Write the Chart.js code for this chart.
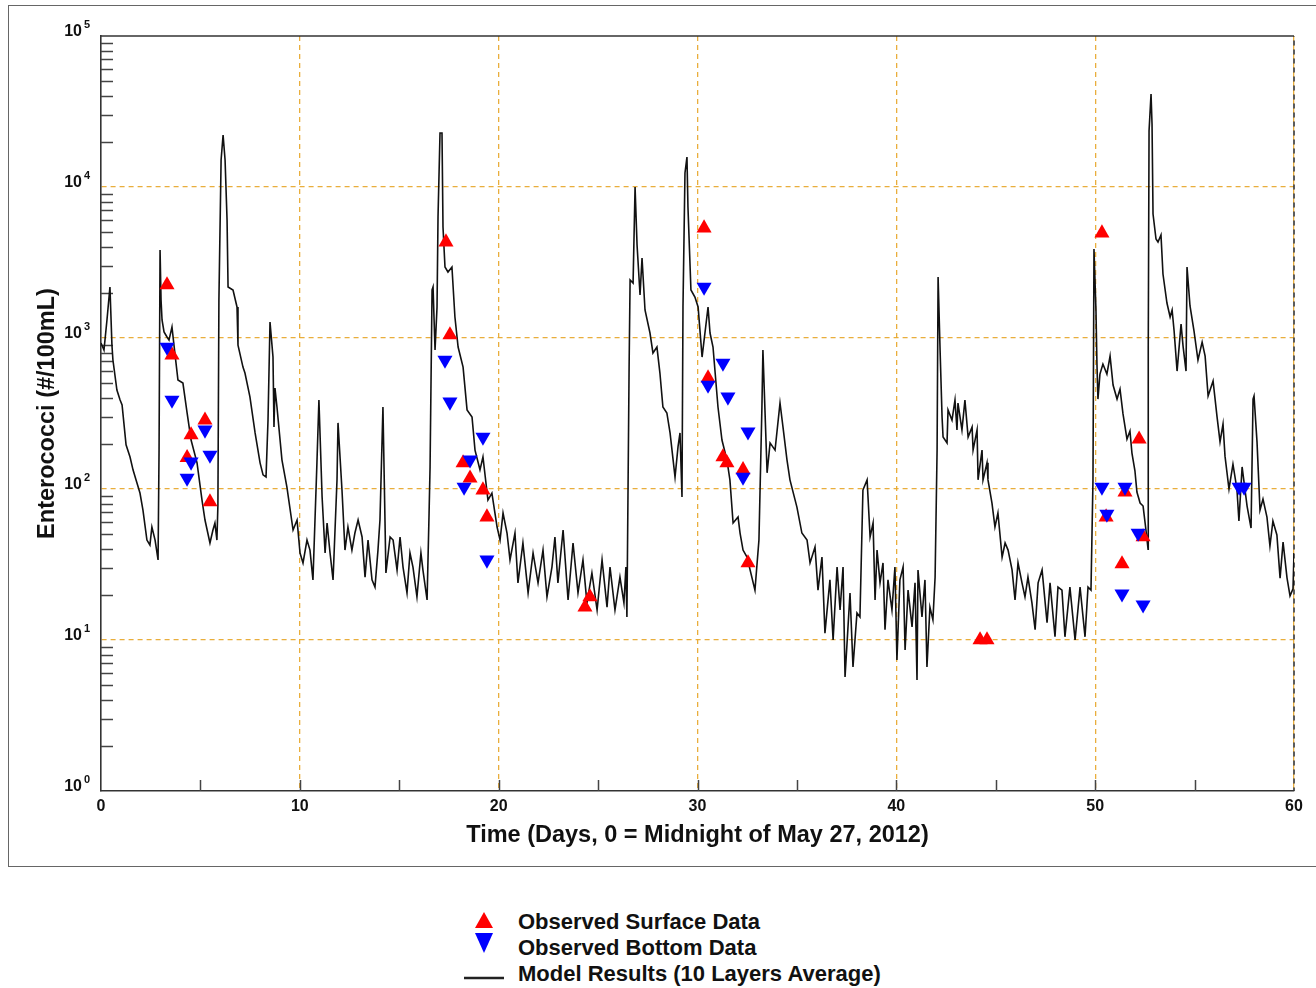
<!DOCTYPE html>
<html><head><meta charset="utf-8">
<script src="https://cdn.jsdelivr.net/npm/chart.js@4.4.1/dist/chart.umd.min.js"></script>
<style>
html,body{margin:0;padding:0;background:#fff;width:1316px;height:988px;overflow:hidden;position:relative;}
#frame{position:absolute;left:8px;top:5px;width:1330px;height:862px;border:1.5px solid #666;box-sizing:border-box;}
#c{position:absolute;left:0;top:0;}
#legend{position:absolute;left:0;top:890px;}
#legend text{font-family:'Liberation Sans',Arial,Helvetica,sans-serif;font-weight:bold;font-size:22px;fill:#111;}
</style></head><body>
<div id="frame"></div>
<canvas id="c" width="1316" height="870"></canvas>
<svg id="legend" width="1316" height="98">
  <polygon points="475,38 493,38 484,22" fill="#ff0000"/>
  <polygon points="475,43 493,43 484,63" fill="#0000ff"/>
  <line x1="464" y1="88" x2="504" y2="88" stroke="#222" stroke-width="2.5"/>
  <text id="lg0" x="518" y="39"></text>
  <text id="lg1" x="518" y="65"></text>
  <text id="lg2" x="518" y="91"></text>
</svg>
<script>
const FONT = "'Liberation Sans', Arial, Helvetica, 'DejaVu Sans', sans-serif";
const legendLabels = ['Observed Surface Data', 'Observed Bottom Data', 'Model Results (10 Layers Average)'];
const xTitle = 'Time (Days, 0 = Midnight of May 27, 2012)';
const yTitle = 'Enterococci (#/100mL)';
const xTickValues = [0, 10, 20, 30, 40, 50, 60];
const yTickValues = [1, 10, 100, 1000, 10000, 100000];
const yTickBases = ['10', '10', '10', '10', '10', '10'];
const yTickExponents = ['0', '1', '2', '3', '4', '5'];

const modelDays = [0.00,0.15,0.30,0.45,0.55,0.60,0.80,0.96,1.06,1.26,1.46,1.61,1.76,1.96,2.11,2.31,2.46,2.56,2.72,2.87,2.92,2.97,3.02,3.07,3.17,3.32,3.42,3.57,3.67,3.87,4.12,4.33,4.53,4.83,5.08,5.23,5.48,5.63,5.73,5.83,5.88,5.93,6.04,6.14,6.24,6.34,6.39,6.64,6.84,6.89,7.14,7.24,7.49,7.75,8.00,8.15,8.30,8.40,8.50,8.65,8.70,8.75,8.85,9.10,9.35,9.66,9.86,10.01,10.16,10.36,10.51,10.66,10.86,10.96,11.12,11.27,11.37,11.52,11.67,11.87,11.92,12.12,12.27,12.42,12.62,12.77,12.93,13.13,13.28,13.43,13.63,13.78,13.93,14.03,14.18,14.33,14.54,14.69,14.89,15.04,15.19,15.39,15.54,15.69,15.89,16.09,16.19,16.40,16.50,16.55,16.65,16.70,16.80,16.90,16.95,17.05,17.15,17.20,17.30,17.45,17.65,17.80,17.96,18.21,18.41,18.66,18.81,19.06,19.21,19.46,19.66,19.92,20.07,20.22,20.42,20.57,20.82,20.97,21.22,21.48,21.73,21.98,22.23,22.43,22.68,22.83,22.98,23.24,23.49,23.74,23.99,24.24,24.44,24.69,24.95,25.20,25.45,25.60,25.85,26.10,26.30,26.40,26.45,26.56,26.61,26.76,26.86,26.96,27.11,27.21,27.36,27.61,27.76,27.96,28.11,28.26,28.46,28.62,28.87,29.02,29.12,29.22,29.27,29.37,29.47,29.52,29.67,29.87,30.03,30.23,30.53,30.63,30.78,31.03,31.23,31.48,31.63,31.79,32.04,32.14,32.29,32.49,32.89,33.09,33.24,33.29,33.50,33.65,33.90,34.15,34.30,34.50,34.65,35.00,35.25,35.51,35.66,35.91,36.06,36.26,36.41,36.66,36.82,37.02,37.17,37.32,37.42,37.67,37.82,38.02,38.17,38.32,38.53,38.68,38.83,38.93,39.03,39.18,39.33,39.43,39.58,39.78,39.93,40.03,40.18,40.34,40.44,40.59,40.79,40.94,41.04,41.09,41.29,41.44,41.54,41.69,41.84,41.95,42.05,42.10,42.20,42.30,42.35,42.55,42.60,42.80,42.95,43.05,43.10,43.30,43.45,43.61,43.81,43.86,44.06,44.11,44.31,44.36,44.56,44.61,44.81,44.96,45.11,45.32,45.47,45.62,45.82,45.97,46.12,46.32,46.47,46.62,46.82,46.98,47.13,47.33,47.58,47.73,47.98,48.13,48.33,48.48,48.73,48.99,49.24,49.49,49.64,49.79,49.89,49.94,50.04,50.09,50.14,50.24,50.39,50.59,50.75,50.90,51.10,51.25,51.40,51.60,51.75,51.85,52.00,52.10,52.26,52.41,52.56,52.66,52.67,52.71,52.81,52.86,52.91,53.06,53.16,53.31,53.41,53.61,53.77,53.87,53.97,54.12,54.32,54.42,54.57,54.62,54.77,54.97,55.17,55.38,55.53,55.68,55.93,56.13,56.28,56.43,56.53,56.73,56.93,57.13,57.23,57.39,57.64,57.84,57.94,57.99,58.14,58.29,58.44,58.64,58.79,58.94,59.14,59.30,59.45,59.65,59.80,59.95,60.00];
const modelValues = [926,832,1316,2176,898,715,452,388,360,196,163,134,115,94,72.5,45.9,42.6,56,45.9,33.9,181,3825,1785,1316,1096,1015,969,1183,898,527,503,319,211,149,84.5,62.3,43.9,53.5,59.5,45.9,78.3,1785,15090,22100,15090,6042,2176,2079,1605,898,642,586,407,235,149,124,120,286,1276,748,257,466,349,156,103,53.5,62.3,37.7,32.4,45.9,39.4,25,149,388,88.4,37.7,59.5,37.7,25,115,274,98.4,39.4,56,39.4,51.1,62.3,48.1,26.1,45.9,25,22.4,39.4,62.3,349,27.8,48.1,45.9,29.1,48.1,30.4,20.5,37.7,30.4,19.3,37.7,29.1,18.4,69.3,140,2079,2176,832,1605,6325,22780,22780,5431,2952,2735,2952,1378,871,642,334,300,181,134,163,84.5,94,56,45.9,69.3,51.1,33.9,51.1,23.9,43.9,20.5,37.7,23.9,39.4,19.3,30.4,48.1,23.9,53.5,18.4,43.9,20.5,33.9,17.6,27.8,15.8,33.9,16.5,30.4,15.8,26.1,17.6,30.4,14.2,642,2421,2313,10000,4128,1927,3386,1533,1079,795,871,586,349,319,235,120,190,235,88.4,1605,12380,15800,7366,2079,1869,1605,748,1605,1079,871,349,211,156,115,59.5,65.2,51.1,39.4,35.4,21.4,45.9,349,832,128,202,181,371,257,156,115,75.9,51.1,45.9,32.4,41.3,21.4,35.4,11.1,25,10,30.4,15.8,30.4,5.69,20.5,6.62,15.1,14.2,98.4,115,48.1,59.5,18.4,39.4,23.9,32.4,11.7,25,15.8,30.4,7.37,25,30.4,8.58,21.4,12.2,23.9,5.43,29.1,14.2,25,6.62,16.5,13.6,26.1,181,2535,832,300,221,202,334,286,388,246,371,246,388,221,257,181,246,115,181,115,149,115,80.7,56,69.3,35.4,43.9,39.4,29.1,18.4,32.4,23.9,19.3,26.1,17.6,11.7,23.9,29.1,13,23.9,10.5,22.4,21.4,10.5,22.4,10,22.4,10.5,22.4,21.4,115,3884,1533,672,394,577,672,577,759,488,394,459,314,214,242,173,132,95.4,80.7,77.1,52.7,40,884,23490,41280,26130,6621,4523,4321,4807,2653,1705,1378,1533,1113,604,1238,884,604,2952,1629,1113,715,940,759,413,519,300,205,269,165,100,146,100,61.4,140,77.1,55.1,394,413,205,72.5,85.8,65.2,41.9,61.4,49.6,25.7,44.5,25.7,19.6,21.8,37.7];

const surfaceDays = [3.32,3.57,4.33,4.53,5.23,5.48,17.35,17.55,18.21,18.56,19.21,19.41,24.34,24.59,30.33,30.53,31.28,31.48,32.29,32.54,44.21,44.56,50.34,50.55,51.35,51.50,52.21,52.41];
const surfaceValues = [2244,771,161,228,286,82,4321,1047,149,118,98.4,65.2,16.5,19.3,5348,543,163,149,134,32.4,10,10,4956,65.2,31.9,95.4,214,48.1];

const bottomDays = [3.32,3.57,4.33,4.53,5.23,5.48,17.30,17.55,18.26,18.56,19.21,19.41,30.33,30.53,31.28,31.53,32.29,32.54,50.34,50.59,51.35,51.50,52.16,52.41,57.24,57.49];
const bottomValues = [871,388,118,151,246,168,715,377,103,156,221,33.9,2176,488,683,407,120,239,103,68.3,20.2,103,51.1,17.1,103,103];

if (modelDays.length !== modelValues.length) throw new Error('model length mismatch ' + modelDays.length + ' vs ' + modelValues.length);
if (surfaceDays.length !== surfaceValues.length) throw new Error('surface length mismatch');
if (bottomDays.length !== bottomValues.length) throw new Error('bottom length mismatch');

const toPts = (xs, ys) => xs.map((d, i) => ({x: d, y: ys[i]}));

legendLabels.forEach((t, i) => { document.getElementById('lg' + i).textContent = t; });

const ORANGE = 'rgba(232,170,50,0.95)';

const axisDecor = {
  id: 'axisDecor',
  beforeDatasetsDraw(chart) {
    const {ctx, chartArea: a, scales: {x, y}} = chart;
    ctx.save();
    ctx.strokeStyle = '#444';
    ctx.lineWidth = 1.5;
    ctx.beginPath();
    for (let k = 0; k < 5; k++) {
      for (let m = 2; m <= 9; m++) {
        const py = Math.round(y.getPixelForValue(m * Math.pow(10, k))) + 0.5;
        ctx.moveTo(a.left, py); ctx.lineTo(a.left + 12, py);
      }
    }
    for (let d = 5; d < 60; d += 5) {
      const px = Math.round(x.getPixelForValue(d)) + 0.5;
      ctx.moveTo(px, a.bottom); ctx.lineTo(px, a.bottom - 11);
    }
    ctx.stroke();
    ctx.strokeStyle = '#333';
    ctx.lineWidth = 1.6;
    ctx.beginPath(); ctx.moveTo(a.left, a.top); ctx.lineTo(a.right, a.top); ctx.stroke();
    ctx.setLineDash([5, 4]); ctx.lineDashOffset = 4.5;
    ctx.beginPath(); ctx.moveTo(a.right, a.top); ctx.lineTo(a.right, a.bottom); ctx.stroke();
    ctx.restore();
  },
  afterDraw(chart) {
    const {ctx, scales: {y}} = chart;
    ctx.save();
    ctx.fillStyle = '#111';
    ctx.font = "bold 11px " + FONT;
    ctx.textAlign = 'left';
    ctx.textBaseline = 'middle';
    yTickValues.forEach((v, i) => {
      ctx.fillText(yTickExponents[i], 84, y.getPixelForValue(v) - 11);
    });
    ctx.restore();
  }
};

new Chart(document.getElementById('c').getContext('2d'), {
  type: 'scatter',
  data: {
    datasets: [
      { type: 'scatter', label: legendLabels[0], data: toPts(surfaceDays, surfaceValues),
        pointStyle: 'triangle', pointRadius: 8.7, backgroundColor: '#ff0000', borderColor: '#ff0000', borderWidth: 0, order: 1 },
      { type: 'scatter', label: legendLabels[1], data: toPts(bottomDays, bottomValues),
        pointStyle: 'triangle', pointRotation: 180, pointRadius: 8.7, backgroundColor: '#0000ff', borderColor: '#0000ff', borderWidth: 0, order: 0 },
      { type: 'line', label: legendLabels[2], data: toPts(modelDays, modelValues),
        borderColor: '#111', borderWidth: 1.6, pointRadius: 0, tension: 0, fill: false, order: 2 }
    ]
  },
  options: {
    responsive: false, animation: false, devicePixelRatio: 1,
    layout: { padding: { left: 0, top: 36, right: 22, bottom: 0 } },
    plugins: { legend: { display: false }, tooltip: { enabled: false } },
    scales: {
      x: {
        type: 'linear', min: 0, max: 60,
        afterFit: s => { s.height = 79; },
        afterBuildTicks: s => { s.ticks = xTickValues.map(v => ({ value: v })); },
        ticks: { padding: 6, maxRotation: 0, autoSkip: false, color: '#111',
                 font: { family: FONT, size: 16, weight: 'bold' } },
        grid: { color: c => (c.tick && c.tick.value > 0) ? ORANGE : 'transparent', lineWidth: 1.3, drawTicks: false },
        border: { display: true, color: '#333', width: 1.6, dash: [5, 4] },
        title: { display: true, text: xTitle, color: '#111',
                 font: { family: FONT, size: 23.5, weight: 'bold' }, padding: { top: 0, bottom: 20 } }
      },
      y: {
        type: 'logarithmic', min: 1, max: 100000,
        afterFit: s => { s.width = 101; },
        afterBuildTicks: s => { s.ticks = yTickValues.map(v => ({ value: v })); },
        ticks: { padding: 19, labelOffset: -4, autoSkip: false, color: '#111',
                 font: { family: FONT, size: 16, weight: 'bold' },
                 callback: (v, i) => yTickBases[i] },
        grid: { color: c => (c.tick && c.tick.value > 1 && c.tick.value < 100000) ? ORANGE : 'transparent', lineWidth: 1.3, drawTicks: false },
        border: { display: true, color: '#333', width: 1.6, dash: [5, 4] },
        title: { display: true, text: yTitle, color: '#111',
                 font: { family: FONT, size: 23.5, weight: 'bold' }, padding: { top: 33, bottom: 0 } }
      }
    }
  },
  plugins: [axisDecor]
});
</script>
</body></html>
